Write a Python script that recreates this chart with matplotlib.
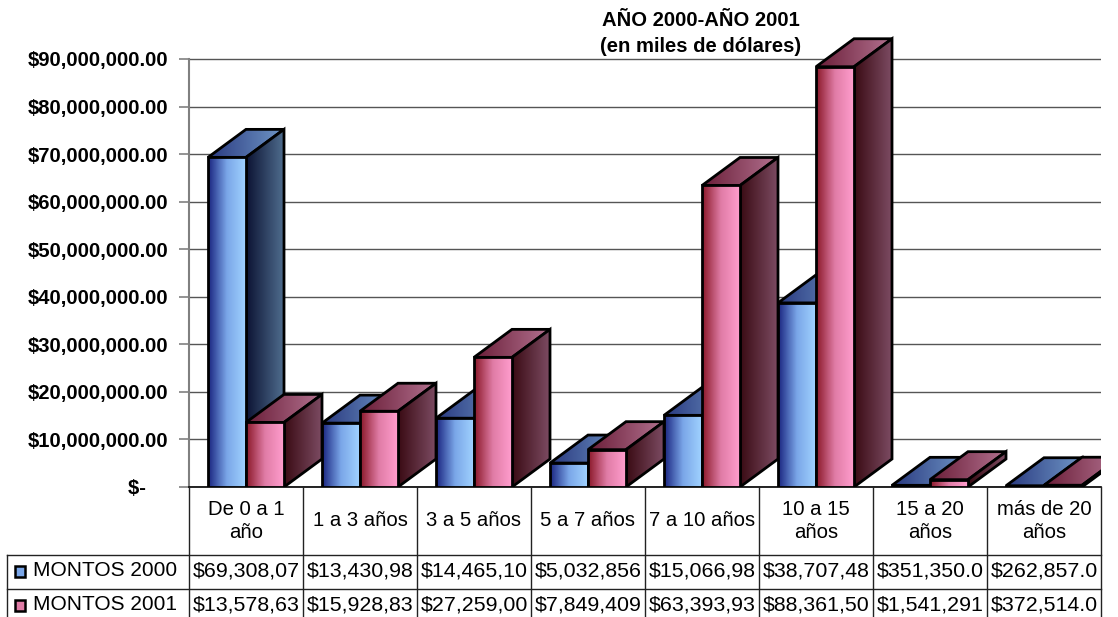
import numpy as np
import matplotlib
matplotlib.use("Agg")
import matplotlib.pyplot as plt
from matplotlib.patches import Polygon, Rectangle
from matplotlib.colors import LinearSegmentedColormap

plt.rcParams['font.family'] = ['Liberation Sans', 'DejaVu Sans']

categorias = ["De 0 a 1\naño", "1 a 3 años", "3 a 5 años", "5 a 7 años",
              "7 a 10 años", "10 a 15\naños", "15 a 20\naños", "más de 20\naños"]
montos_2000 = [69308070.0, 13430980.0, 14465100.0, 5032856.0,
               15066980.0, 38707480.0, 351350.0, 262857.0]
montos_2001 = [13578630.0, 15928830.0, 27259000.0, 7849409.0,
               63393930.0, 88361500.0, 1541291.0, 372514.0]
series = ["MONTOS 2000", "MONTOS 2001"]
yticks = [0, 10e6, 20e6, 30e6, 40e6, 50e6, 60e6, 70e6, 80e6, 90e6]

# colour ramps per face (front, side, top)
azul = {'front': ['#1a2580', '#7aa6e8', '#a0d2ff'],
        'side': ['#0c1333', '#4f6d8e'],
        'top': ['#2a3a80', '#6f96c6']}
rosa = {'front': ['#8a1828', '#e07ca6', '#ff9dcd'],
        'side': ['#3a0b14', '#7c4b62'],
        'top': ['#6a1e38', '#b2718f']}

W, H = 1118, 617
fig = plt.figure(figsize=(W / 100, H / 100), dpi=100)
ax = fig.add_axes([189 / W, 130 / H, 912 / W, 475.6 / H])
ax.set_xlim(-0.5, 7.5)
ax.set_ylim(0, 100e6)

bw = 1 / 3
dx = 1 / 3
dy = 28 * 90e6 / 428

z = [2]


def face(verts, colors):
    poly = Polygon(verts, closed=True, facecolor='none', edgecolor='black',
                   lw=2, joinstyle='miter', zorder=z[0] + 0.5)
    ax.add_patch(poly)
    xs = [v[0] for v in verts]
    ys = [v[1] for v in verts]
    cmap = LinearSegmentedColormap.from_list('g', colors)
    im = ax.imshow(np.linspace(0, 1, 64).reshape(1, -1), cmap=cmap, origin='lower',
                   extent=(min(xs), max(xs), min(ys), max(ys) + 1),
                   aspect='auto', interpolation='bilinear', zorder=z[0])
    im.set_clip_path(poly)
    z[0] += 1


def barra(x0, h, pal):
    face([(x0, h), (x0 + bw, h), (x0 + bw + dx, h + dy), (x0 + dx, h + dy)], pal['top'])
    face([(x0 + bw, 0), (x0 + bw + dx, dy), (x0 + bw + dx, h + dy), (x0 + bw, h)], pal['side'])
    face([(x0, 0), (x0 + bw, 0), (x0 + bw, h), (x0, h)], pal['front'])


for i in range(len(categorias)):
    barra(i - bw, montos_2000[i], azul)
    barra(i, montos_2001[i], rosa)

ax.set_xlim(-0.5, 7.5)
ax.set_ylim(0, 100e6)
ax.set_aspect('auto')

ax.set_yticks(yticks)
ax.set_yticklabels([f"${v:,.2f}" if v else "$-    " for v in yticks],
                   fontsize=14.6, fontweight='bold')
ax.tick_params(axis='y', length=7, width=1.2, color='#808080', pad=8)
ax.set_xticks([])
ax.grid(axis='y', color='#555555', lw=1)
ax.set_axisbelow(True)
for s in ['top', 'right']:
    ax.spines[s].set_visible(False)
ax.spines['left'].set_bounds(0, 90e6)
ax.spines['left'].set_color('#808080')
ax.spines['left'].set_linewidth(1.5)
ax.spines['bottom'].set_color('black')
ax.spines['bottom'].set_linewidth(1.2)
ax.patch.set_alpha(0)

fig.text(701 / W, 1 - 20 / H, "AÑO 2000-AÑO 2001", ha='center', va='center',
         fontsize=14.6, fontweight='bold')
fig.text(701 / W, 1 - 47 / H, "(en miles de dólares)", ha='center', va='center',
         fontsize=14.6, fontweight='bold')

# data table
tax = fig.add_axes([189 / W, 0, 912 / W, 130 / H])
tax.set_xlim(-0.5, 7.5)
tax.set_ylim(0, 130)
tax.axis('off')


def px(p):
    return -0.5 + (p - 189) / 114


lc = '#222222'
for i in range(len(categorias) + 1):
    tax.plot([i - 0.5, i - 0.5], [0, 130], color=lc, lw=1, clip_on=False)
for yy in [62, 28]:
    tax.plot([px(7), 7.5], [yy, yy], color=lc, lw=1, clip_on=False)
tax.plot([px(7), px(7)], [0, 62], color=lc, lw=1, clip_on=False)

for i, c in enumerate(categorias):
    tax.text(i, 96, c, ha='center', va='center', fontsize=14.6, linespacing=1.3)

for vals, yy, pal, name in [(montos_2000, 46, azul, series[0]),
                            (montos_2001, 12, rosa, series[1])]:
    for i, v in enumerate(vals):
        tax.text(i, yy, f"${v:,.2f}"[:10], ha='center', va='center', fontsize=15.4)
    tax.text(px(33), yy, name, ha='left', va='center', fontsize=15, clip_on=False)
    tax.add_patch(Rectangle((px(15), yy - 5.5), 10 / 114, 11, facecolor=pal['front'][1],
                            edgecolor='black', lw=1.8, clip_on=False))

fig.savefig("out.png", dpi=100)
